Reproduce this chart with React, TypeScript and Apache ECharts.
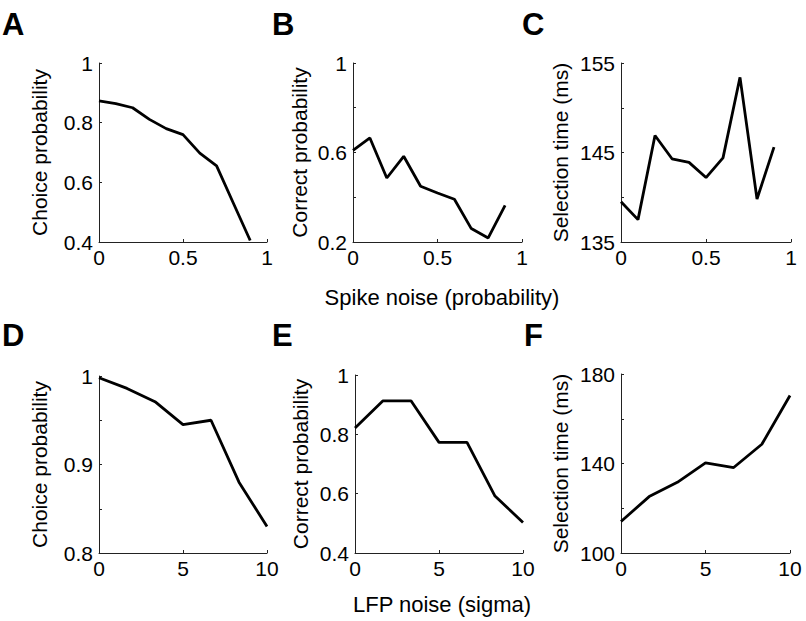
import React, { useEffect, useRef } from "react";
import * as echarts from "echarts";

const xSpike = [0, 0.1, 0.2, 0.3, 0.4, 0.5, 0.6, 0.7, 0.8, 0.9];
const choiceSpike = [0.873, 0.864, 0.85, 0.811, 0.78, 0.76, 0.698, 0.655, 0.53, 0.405];
const correctSpike = [0.61, 0.665, 0.486, 0.583, 0.449, 0.419, 0.391, 0.26, 0.218, 0.364];
const timeSpike = [139.5, 137.5, 146.9, 144.3, 143.9, 142.2, 144.4, 153.4, 139.8, 145.6];

const xLfp = [0, 1.667, 3.333, 5, 6.667, 8.333, 10];
const choiceLfp = [0.998, 0.986, 0.971, 0.945, 0.95, 0.88, 0.83];
const correctLfp = [0.821, 0.913, 0.913, 0.773, 0.773, 0.592, 0.503];
const timeLfp = [114.1, 125.2, 131.6, 140.3, 138.2, 148.6, 170.4];

const yNames = [
  "Choice probability",
  "Correct probability",
  "Selection time (ms)",
  "Choice probability",
  "Correct probability",
  "Selection time (ms)",
];
const panelLetters = ["A", "B", "C", "D", "E", "F"];
const xTitleTop = "Spike noise (probability)";
const xTitleBottom = "LFP noise (sigma)";

const yLabelSets = [
  [0.4, 0.6, 0.8, 1],
  [0.2, 0.6, 1],
  [135, 145, 155],
  [0.8, 0.9, 1],
  [0.4, 0.6, 0.8, 1],
  [100, 140, 180],
];

const FONT = "Arial, 'Liberation Sans', Helvetica, sans-serif";

export default function App() {
  const ref = useRef<HTMLDivElement>(null);
  useEffect(() => {
    if (!ref.current) return;
    const chart = echarts.init(ref.current, null, { renderer: "svg" });

    const panels = [
      { g: { left: 99, top: 63, width: 168, height: 179 }, x: xSpike, y: choiceSpike, xmax: 1, xint: 0.5, ymin: 0.4, ymax: 1, yint: 0.2, gap: 49 },
      { g: { left: 353, top: 63, width: 169, height: 179 }, x: xSpike, y: correctSpike, xmax: 1, xint: 0.5, ymin: 0.2, ymax: 1, yint: 0.2, gap: 43 },
      { g: { left: 621, top: 63, width: 170, height: 179 }, x: xSpike, y: timeSpike, xmax: 1, xint: 0.5, ymin: 135, ymax: 155, yint: 5, gap: 50 },
      { g: { left: 99, top: 376, width: 168, height: 177 }, x: xLfp, y: choiceLfp, xmax: 10, xint: 5, ymin: 0.8, ymax: 1, yint: 0.05, gap: 49 },
      { g: { left: 355, top: 375, width: 168, height: 178 }, x: xLfp, y: correctLfp, xmax: 10, xint: 5, ymin: 0.4, ymax: 1, yint: 0.2, gap: 44 },
      { g: { left: 621, top: 374, width: 169, height: 179 }, x: xLfp, y: timeLfp, xmax: 10, xint: 5, ymin: 100, ymax: 180, yint: 20, gap: 50 },
    ];

    const axisLine = { show: true, lineStyle: { color: "#222", width: 1 } };
    const axisTick = { show: true, inside: true, length: 3, lineStyle: { color: "#222", width: 1 } };

    const option: any = {
      animation: false,
      backgroundColor: "#fff",
      grid: panels.map((p) => ({ ...p.g, containLabel: false })),
      xAxis: panels.map((p, i) => ({
        type: "value",
        gridIndex: i,
        min: 0,
        max: p.xmax,
        interval: p.xint,
        axisLine,
        axisTick,
        splitLine: { show: false },
        axisLabel: { fontSize: 21, color: "#000", fontFamily: FONT, margin: 5 },
      })),
      yAxis: panels.map((p, i) => ({
        type: "value",
        gridIndex: i,
        min: p.ymin,
        max: p.ymax,
        interval: p.yint,
        axisLine,
        axisTick,
        splitLine: { show: false },
        name: yNames[i],
        nameLocation: "middle",
        nameGap: p.gap,
        nameTextStyle: { fontSize: 21, color: "#000", fontFamily: FONT },
        axisLabel: {
          fontSize: 21,
          color: "#000",
          fontFamily: FONT,
          margin: 6,
          formatter: (v: number) => {
            const ok = yLabelSets[i].some((l) => Math.abs(l - v) < 1e-6);
            return ok ? String(Number(v.toFixed(6))) : "";
          },
        },
      })),
      series: panels.map((p, i) => ({
        type: "line",
        xAxisIndex: i,
        yAxisIndex: i,
        data: p.x.map((xv, k) => [xv, p.y[k]]),
        showSymbol: false,
        symbol: "none",
        lineStyle: { color: "#000", width: 2.8 },
        clip: false,
      })),
      graphic: [
        ...panelLetters.map((t, i) => ({
          type: "text",
          x: [2, 272, 522, 2, 272, 524][i],
          y: i < 3 ? 24 : 335,
          style: {
            text: t,
            fontSize: 31,
            fontWeight: "bold",
            fontFamily: FONT,
            fill: "#000",
            textVerticalAlign: "middle",
          },
        })),
        {
          type: "text",
          x: 442,
          y: 297,
          style: { text: xTitleTop, fontSize: 22, fontFamily: FONT, fill: "#000", textAlign: "center", textVerticalAlign: "middle" },
        },
        {
          type: "text",
          x: 442,
          y: 604,
          style: { text: xTitleBottom, fontSize: 22, fontFamily: FONT, fill: "#000", textAlign: "center", textVerticalAlign: "middle" },
        },
      ],
    };
    chart.setOption(option);
    return () => chart.dispose();
  }, []);
  return <div ref={ref} style={{ position: "fixed", left: 0, top: 0, width: 806, height: 621 }} />;
}
